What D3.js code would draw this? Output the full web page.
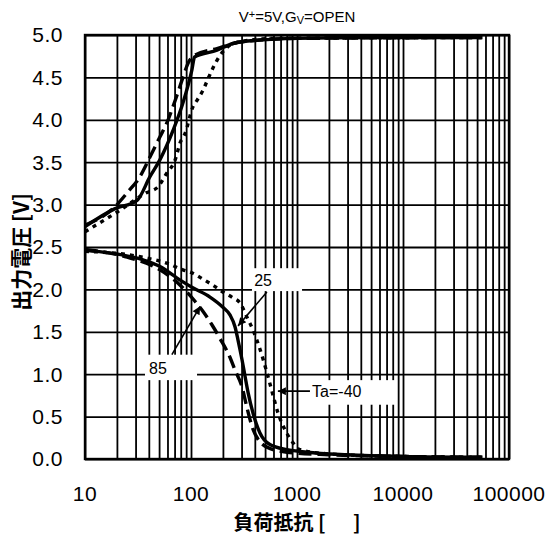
<!DOCTYPE html>
<html>
<head>
<meta charset="utf-8">
<script src="https://cdn.jsdelivr.net/npm/d3@7"></script>
<style>
  body { margin: 0; background: #fff; }
  svg { display: block; font-family: "Liberation Sans", Arial, sans-serif; }
  .grid line { stroke: #000; stroke-width: 1.8; }
  .grid path { display: none; }
  .tick-label { font-size: 21px; fill: #000; letter-spacing: 0.5px; }
  .cjk { font-family: "Noto Sans CJK JP", sans-serif; font-weight: bold; white-space: pre; }
  .note { font-size: 16px; }
</style>
</head>
<body>
<div id="chart"></div>
<script>
// load resistance [ohm] vs output voltage [V], V+=5V, Gv=OPEN

// Ta=25 (solid)
const rHigh25 = [10, 19, 31, 41, 51, 68, 84, 102, 108, 176, 249, 446, 1000, 5000, 56000];
const vHigh25 = [2.74, 2.95, 3.05, 3.33, 3.53, 3.88, 4.2, 4.59, 4.74, 4.82, 4.9, 4.94, 4.96, 4.97, 4.97];
const rLow25 = [10, 17, 35, 51, 79, 104, 151, 200, 233, 260, 278, 303, 324, 346, 385, 446, 555, 804, 1240, 3000, 10000, 56000];
const vLow25 = [2.46, 2.43, 2.35, 2.27, 2.11, 2.02, 1.91, 1.79, 1.70, 1.56, 1.40, 1.17, 0.97, 0.78, 0.54, 0.31, 0.17, 0.11, 0.08, 0.05, 0.03, 0.02];

// Ta=85 (long dash)
const rHigh85 = [10, 19, 25, 33, 41, 51, 59, 71, 84, 94, 108, 176, 300, 1000, 56000];
const vHigh85 = [2.76, 2.97, 3.14, 3.33, 3.56, 3.8, 3.96, 4.23, 4.5, 4.67, 4.76, 4.84, 4.92, 4.96, 4.97];
const rLow85 = [10, 25, 51, 79, 109, 130, 158, 188, 233, 260, 303, 338, 385, 520, 804, 2000, 10000, 56000];
const vLow85 = [2.47, 2.38, 2.23, 2.05, 1.86, 1.74, 1.58, 1.42, 1.2, 1.05, 0.85, 0.6, 0.35, 0.14, 0.08, 0.05, 0.03, 0.02];

// Ta=-40 (short dash)
const rHighM40 = [10, 20, 38, 48, 59, 71, 79, 88, 104, 114, 130, 141, 161, 188, 233, 290, 600, 56000];
const vHighM40 = [2.68, 2.91, 3.14, 3.2, 3.37, 3.53, 3.73, 3.84, 4.15, 4.23, 4.35, 4.45, 4.61, 4.76, 4.88, 4.92, 4.96, 4.97];
const rLowM40 = [10, 25, 38, 59, 84, 104, 130, 161, 200, 249, 290, 338, 385, 446, 520, 580, 663, 774, 917, 1067, 2000, 10000, 56000];
const vLowM40 = [2.45, 2.41, 2.37, 2.31, 2.23, 2.19, 2.12, 2.05, 1.97, 1.90, 1.84, 1.67, 1.52, 1.30, 1.02, 0.8, 0.54, 0.34, 0.19, 0.11, 0.06, 0.03, 0.02];

const xTickLabels = [10, 100, 1000, 10000, 100000];
const yTickLabels = ["0.0", "0.5", "1.0", "1.5", "2.0", "2.5", "3.0", "3.5", "4.0", "4.5", "5.0"];

// annotations: label text, box corners, text anchor, arrow from/to (all in data units)
const notes = [
  { text: "25", box: [376, 1116, 2.25, 1.98], at: [479, 2.11], from: [520, 1.97], to: [278, 1.57] },
  { text: "85", box: [36.8, 114, 1.23, 0.93], at: [48.8, 1.07], from: [66, 1.23], to: [122, 1.80] },
  { text: "Ta=-40", box: [1325, 8776, 0.93, 0.64], at: [1388, 0.80], from: [1325, 0.80], to: [660, 0.80], left: true }
];

var W = 548, H = 537;
var margin = { top: 35, right: 39, bottom: 78, left: 85 };
var width = W - margin.left - margin.right;
var height = H - margin.top - margin.bottom;

var x = d3.scaleLog().domain([10, 100000]).range([0, width]);
var y = d3.scaleLinear().domain([0, 5]).range([height, 0]);

var svg = d3.select('#chart').append('svg').attr('width', W).attr('height', H);

svg.append('defs').append('marker')
  .attr('id', 'arrow')
  .attr('viewBox', '0 0 10 10')
  .attr('refX', 10).attr('refY', 5)
  .attr('markerWidth', 11).attr('markerHeight', 8)
  .attr('markerUnits', 'userSpaceOnUse')
  .attr('orient', 'auto')
  .append('path').attr('d', 'M0,0L10,5L0,10z').attr('fill', '#000');

var g = svg.append('g').attr('transform', 'translate(' + margin.left + ',' + margin.top + ')');

// grid
g.append('g').attr('class', 'grid')
  .attr('transform', 'translate(0,' + height + ')')
  .call(d3.axisBottom(x).tickSize(-height).tickFormat(''));
g.append('g').attr('class', 'grid')
  .call(d3.axisLeft(y).ticks(10).tickSize(-width).tickFormat(''));

g.append('rect')
  .attr('width', width).attr('height', height)
  .attr('fill', 'none').attr('stroke', '#000').attr('stroke-width', 2.4);

// curves
var line = d3.line()
  .x(function (d) { return x(d[0]); })
  .y(function (d) { return y(d[1]); })
  .curve(d3.curveMonotoneX);

var series = [
  { r: rHigh25, v: vHigh25, dash: null },
  { r: rLow25, v: vLow25, dash: null },
  { r: rHigh85, v: vHigh85, dash: '13,6' },
  { r: rLow85, v: vLow85, dash: '13,6' },
  { r: rHighM40, v: vHighM40, dash: '4,5' },
  { r: rLowM40, v: vLowM40, dash: '4,5' }
];

series.forEach(function (s) {
  g.append('path')
    .datum(d3.zip(s.r, s.v))
    .attr('d', line)
    .attr('fill', 'none')
    .attr('stroke', '#000')
    .attr('stroke-width', 3.4)
    .attr('stroke-dasharray', s.dash);
});

// annotations
notes.forEach(function (n) {
  g.append('rect')
    .attr('x', x(n.box[0])).attr('y', y(n.box[2]))
    .attr('width', x(n.box[1]) - x(n.box[0]))
    .attr('height', y(n.box[3]) - y(n.box[2]))
    .attr('fill', '#fff');
  g.append('line')
    .attr('x1', x(n.from[0])).attr('y1', y(n.from[1]))
    .attr('x2', x(n.to[0])).attr('y2', y(n.to[1]))
    .attr('stroke', '#000').attr('stroke-width', 1.6)
    .attr('marker-end', 'url(#arrow)');
  g.append('text')
    .attr('class', 'note')
    .attr('x', x(n.at[0])).attr('y', y(n.at[1]))
    .attr('dy', '0.35em')
    .attr('text-anchor', n.left ? 'start' : 'middle')
    .text(n.text);
});

// tick labels
g.selectAll('.xlab')
  .data(xTickLabels)
  .enter().append('text')
  .attr('class', 'tick-label')
  .attr('x', function (d) { return x(d); })
  .attr('y', height + 42)
  .attr('text-anchor', 'middle')
  .text(function (d) { return d; });

g.selectAll('.ylab')
  .data(yTickLabels)
  .enter().append('text')
  .attr('class', 'tick-label')
  .attr('x', -22)
  .attr('y', function (d) { return y(+d); })
  .attr('dy', '0.35em')
  .attr('text-anchor', 'end')
  .text(function (d) { return d; });

// title
var title = svg.append('text')
  .attr('x', margin.left + width / 2)
  .attr('y', 22)
  .attr('text-anchor', 'middle')
  .style('font-size', '15px');
title.append('tspan').text('V');
title.append('tspan').attr('baseline-shift', '40%').style('font-size', '11px').text('+');
title.append('tspan').text('=5V,G');
title.append('tspan').attr('baseline-shift', '-20%').style('font-size', '11px').text('V');
title.append('tspan').text('=OPEN');

// axis titles
svg.append('text')
  .attr('class', 'cjk')
  .attr('x', margin.left + width / 2)
  .attr('y', 530)
  .attr('text-anchor', 'middle')
  .style('font-size', '20px')
  .text('負荷抵抗 [\u00a0\u00a0\u00a0\u00a0\u00a0\u00a0]');

svg.append('text')
  .attr('class', 'cjk')
  .attr('transform', 'translate(29,' + (margin.top + height / 2 + 5) + ') rotate(-90)')
  .attr('text-anchor', 'middle')
  .style('font-size', '21px')
  .text('出力電圧 [V]');
</script>
</body>
</html>
